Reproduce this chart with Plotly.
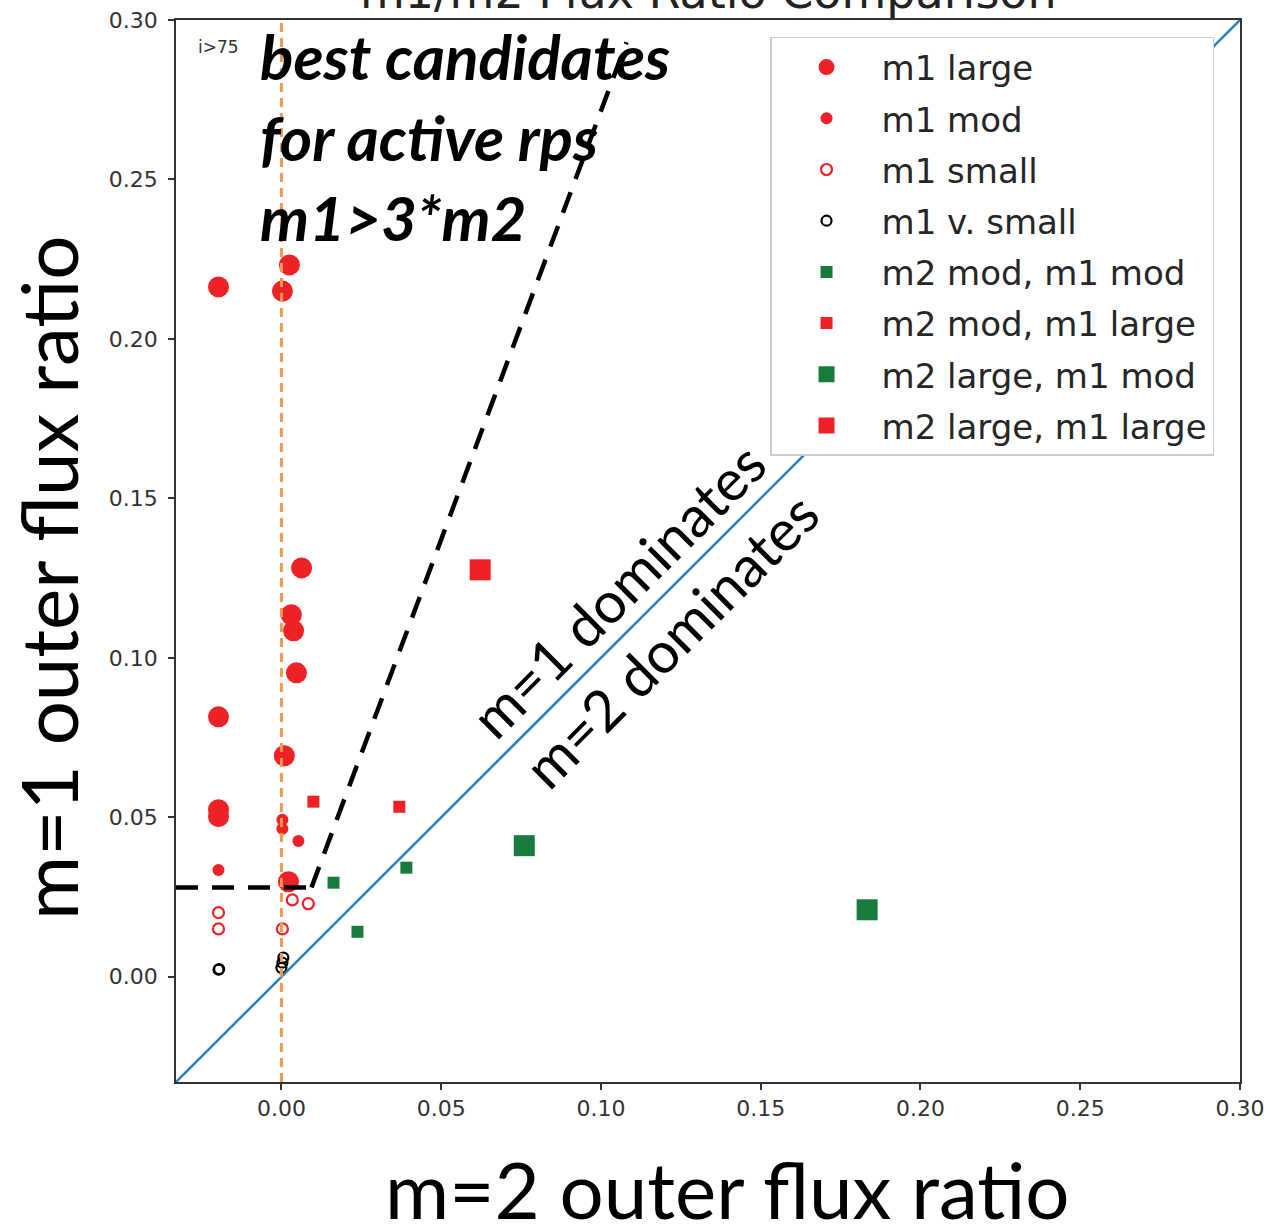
import plotly.graph_objects as go

# ---- data: (m=2 outer flux ratio, m=1 outer flux ratio) per class ----
m1_large_x = [-0.0197, 0.0025, 0.0003, 0.0063, 0.0031, 0.0038, 0.0047, -0.0197, 0.0009, -0.0197, -0.0197, 0.0022]
m1_large_y = [0.2163, 0.2232, 0.2150, 0.1282, 0.1135, 0.1085, 0.0953, 0.0815, 0.0693, 0.0524, 0.0502, 0.0298]

m1_mod_x = [-0.0197, 0.0003, 0.0003, 0.0053]
m1_mod_y = [0.0335, 0.0492, 0.0464, 0.0426]

m1_small_x = [-0.0197, -0.0197, 0.0003, 0.0034, 0.0084]
m1_small_y = [0.0201, 0.0150, 0.0150, 0.0241, 0.0229]

m1_vsmall_x = [-0.0197, -0.0195, 0.0006, 0.0003, 0.0000]
m1_vsmall_y = [0.0022, 0.0024, 0.0060, 0.0044, 0.0028]

m2mod_m1mod_x = [0.0163, 0.0238, 0.0391]
m2mod_m1mod_y = [0.0295, 0.0141, 0.0342]

m2mod_m1large_x = [0.0100, 0.0369]
m2mod_m1large_y = [0.0549, 0.0533]

m2large_m1mod_x = [0.0760, 0.1833]
m2large_m1mod_y = [0.0411, 0.0210]

m2large_m1large_x = [0.0622]
m2large_m1large_y = [0.1276]

# axis extent and tick labels
axis_min, axis_max = -0.033, 0.30
tick_vals = [0.00, 0.05, 0.10, 0.15, 0.20, 0.25, 0.30]
tick_text = ["0.00", "0.05", "0.10", "0.15", "0.20", "0.25", "0.30"]

# candidate-selection guide: m1 floor, then the m1 > 3*m2 wedge edge
m1_floor = 0.028
wedge_start = (0.0094, 0.028)
wedge_end = (0.108, 0.293)

RED = "#ec2227"
GREEN = "#187b3d"

series = [
    ("m1 large", m1_large_x, m1_large_y, dict(symbol="circle", size=21, color=RED)),
    ("m1 mod", m1_mod_x, m1_mod_y, dict(symbol="circle", size=12, color=RED)),
    ("m1 small", m1_small_x, m1_small_y,
     dict(symbol="circle-open", size=11, color=RED, line=dict(width=2.2, color=RED))),
    ("m1 v. small", m1_vsmall_x, m1_vsmall_y,
     dict(symbol="circle-open", size=10, color="black", line=dict(width=2.2, color="black"))),
    ("m2 mod, m1 mod", m2mod_m1mod_x, m2mod_m1mod_y, dict(symbol="square", size=12, color=GREEN)),
    ("m2 mod, m1 large", m2mod_m1large_x, m2mod_m1large_y, dict(symbol="square", size=12, color=RED)),
    ("m2 large, m1 mod", m2large_m1mod_x, m2large_m1mod_y, dict(symbol="square", size=21, color=GREEN)),
    ("m2 large, m1 large", m2large_m1large_x, m2large_m1large_y, dict(symbol="square", size=21, color=RED)),
]

fig = go.Figure()
for name, xs, ys, mk in series:
    fig.add_trace(go.Scatter(x=xs, y=ys, mode="markers", name=name, legendgroup=name,
                             marker=mk, showlegend=True))

# y = x divider, zero line for m2, and the candidate guide
fig.add_shape(type="line", xref="x", yref="y", x0=axis_min, y0=axis_min, x1=axis_max, y1=axis_max,
              line=dict(color="#2f7fbc", width=2.5), layer="above")
fig.add_shape(type="line", xref="x", yref="paper", x0=0, x1=0, y0=0, y1=1,
              line=dict(color="#f39a4c", width=3, dash="9px,6px"), layer="above")
fig.add_shape(type="line", xref="x", yref="y", x0=axis_min, y0=m1_floor, x1=wedge_start[0], y1=m1_floor,
              line=dict(color="black", width=4.5, dash="22px,14px"), layer="above")
fig.add_shape(type="line", xref="x", yref="y", x0=wedge_start[0], y0=wedge_start[1],
              x1=wedge_end[0], y1=wedge_end[1],
              line=dict(color="black", width=4.5, dash="22px,14px"), layer="above")

annotations = [
    # title, mostly above the page edge
    dict(text="m1/m2 Flux Ratio Comparison", xref="paper", yref="paper", x=0.5, y=1.026,
         xanchor="center", yanchor="middle", showarrow=False,
         font=dict(family="DejaVu Sans", size=46, color="#222")),
    dict(text="i>75", xref="paper", yref="paper", x=0.0395, y=0.9746,
         xanchor="center", yanchor="middle", showarrow=False,
         font=dict(family="DejaVu Sans", size=17, color="#333")),
    dict(text="<b><i>best candidates<br>for active rps<br>m1>3*m2</i></b>",
         xref="paper", yref="paper", x=0.0771, y=1.003, xanchor="left", yanchor="top",
         align="left", showarrow=False,
         font=dict(family="Lato", size=62, color="black")),
    dict(text="m=1 dominates", xref="x", yref="y", x=0.1051, y=0.1213, textangle=-45,
         showarrow=False, font=dict(family="Lato", size=57, color="black")),
    dict(text="m=2 dominates", xref="x", yref="y", x=0.1217, y=0.1056, textangle=-45,
         showarrow=False, font=dict(family="Lato", size=57, color="black")),
    # axis titles
    dict(text="m=2 outer flux ratio", xref="paper", yref="paper", x=0.518, y=-0.1005,
         xanchor="center", yanchor="middle", showarrow=False,
         font=dict(family="Lato", size=78, color="black")),
    dict(text="m=1 outer flux ratio", xref="paper", yref="paper", x=-0.1203, y=0.4746,
         xanchor="center", yanchor="middle", textangle=-90, showarrow=False,
         font=dict(family="Lato", size=78, color="black")),
]

axis_common = dict(
    range=[axis_min, axis_max], tickvals=tick_vals, ticktext=tick_text,
    ticks="outside", ticklen=6, tickwidth=1.5, tickcolor="#333",
    showline=True, linecolor="#333", linewidth=1.5, mirror=True,
    showgrid=False, zeroline=False, automargin=False,
    tickfont=dict(family="DejaVu Sans", size=22, color="#333"),
)

fig.update_layout(
    width=1268, height=1226,
    margin=dict(l=176, r=28, t=20, b=144, autoexpand=False),
    paper_bgcolor="white", plot_bgcolor="white",
    xaxis=dict(**axis_common),
    yaxis=dict(**axis_common, ticklabelstandoff=6),
    annotations=annotations,
    showlegend=True,
    legend=dict(
        x=0.5583, y=0.984, xanchor="left", yanchor="top",
        bgcolor="white", bordercolor="#cccccc", borderwidth=1.5,
        font=dict(family="DejaVu Sans", size=34, color="#262626"),
        itemwidth=100, itemsizing="trace",
        traceorder="grouped", tracegroupgap=4,
    ),
)

fig.write_html("out.html")
